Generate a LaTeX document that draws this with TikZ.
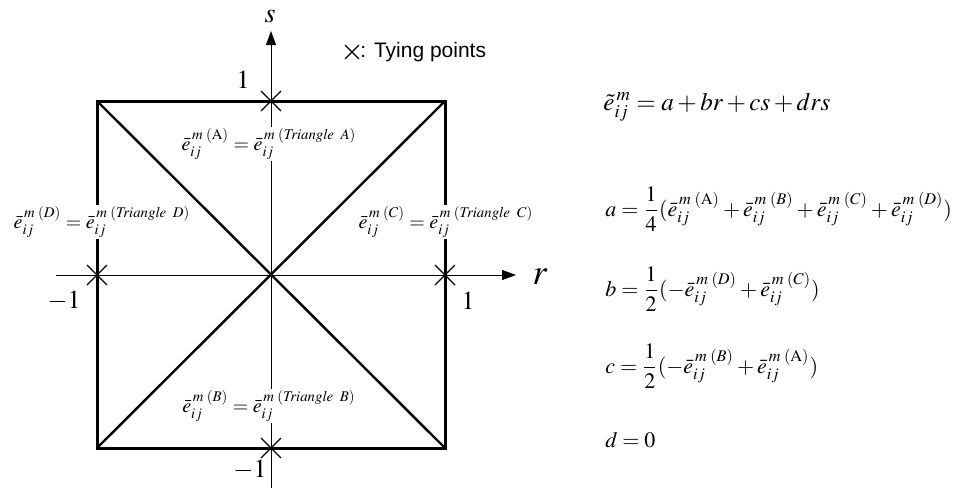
\documentclass[tikz,border=0pt]{standalone}
\usepackage{amsmath}
\usepackage{mathptmx}
\usepackage[no-math]{fontspec}
\newfontfamily\arialfont{Liberation Sans}
\usetikzlibrary{arrows.meta}
\newcommand{\eb}[1]{\bar{e}_{ij}^{\,m\;(#1)}}
\begin{document}
\begin{tikzpicture}[x=0.5pt,y=-0.5pt,
  sq/.style={line width=1.5pt,line join=miter},
  diag/.style={line width=1.2pt},
  axis/.style={line width=0.5pt,-{Triangle[length=7pt,width=5pt]}},
  tie/.style={line width=0.6pt},
  lbl/.style={fill=white,inner sep=1pt,font=\fontsize{10}{12}\selectfont},
  eqn/.style={anchor=base west,inner sep=0pt,font=\fontsize{11}{13}\selectfont},
  num/.style={inner sep=0pt,font=\fontsize{13}{15}\selectfont}]
\useasboundingbox (0,0) rectangle (957,489);
% coordinates
\coordinate (TL) at (97,101);
\coordinate (TR) at (445,101);
\coordinate (BR) at (445,448);
\coordinate (BL) at (97,448);
\coordinate (O) at (271,275);
\coordinate (xs) at (56,275);
\coordinate (xe) at (516,275);
\coordinate (ys) at (271,488);
\coordinate (ye) at (271,31);
% axes
\draw[axis] (xs) -- (xe);
\draw[axis] (ys) -- (ye);
% diagonals and square
\draw[diag] (TL) -- (BR);
\draw[diag] (TR) -- (BL);
\draw[sq] (TL) -- (TR) -- (BR) -- (BL) -- cycle;
% labels
\node[lbl] (lA) at (269,144) {$\eb{\mathrm{A}} = \bar{e}_{ij}^{\,m\;(\mathit{Triangle\ A})}$};
\node[lbl] (lB) at (269,406) {$\eb{B} = \bar{e}_{ij}^{\,m\;(\mathit{Triangle\ B})}$};
\node[lbl] (lD) at (102,222) {$\eb{D} = \bar{e}_{ij}^{\,m\;(\mathit{Triangle\ D})}$};
\node[lbl] (lC) at (446,222) {$\eb{C} = \bar{e}_{ij}^{\,m\;(\mathit{Triangle\ C})}$};
% tying points
\foreach \cx/\cy in {271/101,97/275,445/275,271/448}{
  \coordinate (c) at (\cx,\cy);
  \draw[tie] ([shift={(-10,-10)}]c) -- ([shift={(10,10)}]c);
  \draw[tie] ([shift={(-10,10)}]c) -- ([shift={(10,-10)}]c);
}
% axis labels
\node[num,font=\fontsize{14}{16}\selectfont] (s) at (270,16) {$s$};
\node[num,font=\fontsize{18}{20}\selectfont] (r) at (540,277) {$r$};
\node[num] (one1) at (243,80) {$1$};
\node[num] (mone1) at (64,301) {$-1$};
\node[num] (one2) at (468,301) {$1$};
\node[num] (mone2) at (250,470) {$-1$};
% legend
\coordinate (lg) at (352,52);
\draw[tie] ([shift={(-7,-7)}]lg) -- ([shift={(7,7)}]lg);
\draw[tie] ([shift={(-7,7)}]lg) -- ([shift={(7,-7)}]lg);
\node[anchor=west,inner sep=0pt,font=\arialfont\fontsize{10.5}{12}\selectfont] (leg) at (360,52) {: Tying points};
% equations
\node[eqn,font=\fontsize{12.5}{14}\selectfont] (e0) at (603,110) {$\tilde{e}_{ij}^{\,m} = a + br + cs + drs$};
\node[eqn] (e1) at (605,216) {$a = \dfrac{1}{4}(\eb{\mathrm{A}} + \eb{B} + \eb{C} + \eb{D})$};
\node[eqn] (e2) at (605,296) {$b = \dfrac{1}{2}(-\eb{D} + \eb{C})$};
\node[eqn] (e3) at (605,373) {$c = \dfrac{1}{2}(-\eb{B} + \eb{\mathrm{A}})$};
\node[eqn] (e4) at (605,447) {$d = 0$};
\end{tikzpicture}
\end{document}
